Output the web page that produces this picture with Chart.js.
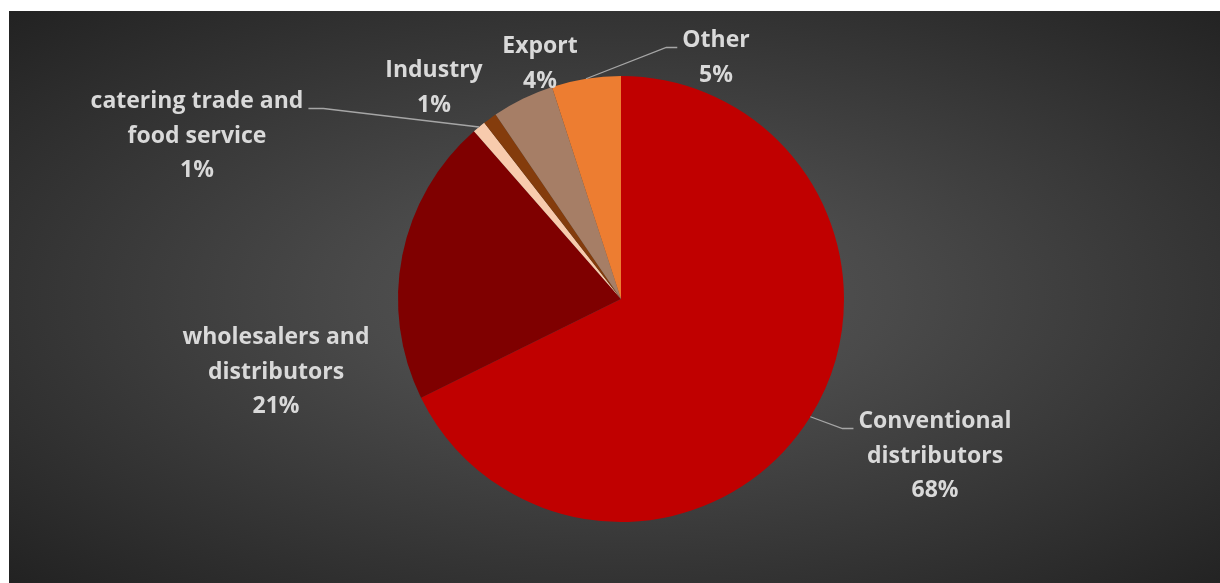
<!DOCTYPE html>
<html>
<head>
<meta charset="utf-8">
<script src="https://cdn.jsdelivr.net/npm/chart.js@4.4.1/dist/chart.umd.min.js"></script>
<style>
  html, body { margin: 0; padding: 0; background: #ffffff; }
  #wrap { position: absolute; left: 0; top: 0; width: 1220px; height: 583px; }
  #bg { position: absolute; left: 9px; top: 11px; width: 1211px; height: 572px;
        background: radial-gradient(ellipse farthest-corner at 51% 50%, #585858 0%, #4a4a4a 30%, #363636 65%, #222222 100%); }
  canvas { position: absolute; left: 0; top: 0; }
</style>
</head>
<body>
<div id="wrap">
  <div id="bg"></div>
  <canvas id="c" width="1220" height="583"></canvas>
</div>
<script>
// ---- data ----
const categories = [
  ["Conventional", "distributors"],
  ["wholesalers and", "distributors"],
  ["catering trade and", "food service"],
  ["Industry"],
  ["Export"],
  ["Other"]
];
const shares = [67.6, 20.8, 0.95, 1.0, 4.49, 5.0];
const sliceColors = ["#C00000", "#7F0000", "#F8CBAD", "#843C0C", "#A67E66", "#ED7D31"];

// ---- label layout (offset of label block centre / first baseline from pie centre) ----
const labelLayout = [
  { dx: 314, dy: 129, leader: "right" },
  { dx: -345, dy: 45, leader: null },
  { dx: -424, dy: -191, leader: "left" },
  { dx: -187, dy: -222, leader: null },
  { dx: -81, dy: -246, leader: null },
  { dx: 95, dy: -252, leader: "right" }
];

const FONT = "bold 23px 'Open Sans', Lato, sans-serif";
const LINE_H = 34.5;
const TEXT_COLOR = "#D9D9D9";
const LEADER_COLOR = "#A6A6A6";

const labelPlugin = {
  id: "pieLabels",
  afterDatasetsDraw(chart) {
    const ctx = chart.ctx;
    const meta = chart.getDatasetMeta(0);
    const data = chart.data.datasets[0].data;
    const total = data.reduce((a, b) => a + b, 0);
    ctx.save();
    ctx.font = FONT;
    ctx.fillStyle = TEXT_COLOR;
    ctx.textAlign = "center";
    ctx.textBaseline = "alphabetic";
    meta.data.forEach((arc, i) => {
      const p = arc.getProps(["x", "y", "startAngle", "endAngle", "outerRadius"], true);
      const lay = labelLayout[i];
      const cx = p.x + lay.dx;
      const by = p.y + lay.dy;
      const lines = categories[i].concat([Math.round(data[i] / total * 100) + "%"]);
      lines.forEach((t, k) => ctx.fillText(t, cx, by + k * LINE_H));
      if (lay.leader) {
        const w = ctx.measureText(lines[0]).width;
        const mid = (p.startAngle + p.endAngle) / 2;
        const ax = p.x + Math.cos(mid) * p.outerRadius;
        const ay = p.y + Math.sin(mid) * p.outerRadius;
        let ex, elx;
        if (lay.leader === "right") { ex = cx - w / 2 - 5; elx = ex - 11; }
        else { ex = cx + w / 2 + 5; elx = ex + 15; }
        const ly = by + 0.5;
        ctx.strokeStyle = LEADER_COLOR;
        ctx.lineWidth = 1.3;
        ctx.beginPath();
        ctx.moveTo(ax, ay);
        ctx.lineTo(elx, ly);
        ctx.lineTo(ex, ly);
        ctx.stroke();
      }
    });
    ctx.restore();
  }
};

document.fonts.load(FONT).then(draw, draw);
function draw() {
  new Chart(document.getElementById("c"), {
    type: "pie",
    data: {
      labels: categories.map(c => c.join(" ")),
      datasets: [{
        data: shares,
        backgroundColor: sliceColors,
        borderWidth: 0,
        hoverOffset: 0,
        offset: 0
      }]
    },
    options: {
      responsive: false,
      animation: false,
      devicePixelRatio: 1,
      layout: { padding: { top: 76, bottom: 61, left: 398, right: 376 } },
      plugins: { legend: { display: false }, tooltip: { enabled: false } }
    },
    plugins: [labelPlugin]
  });
}
</script>
</body>
</html>
